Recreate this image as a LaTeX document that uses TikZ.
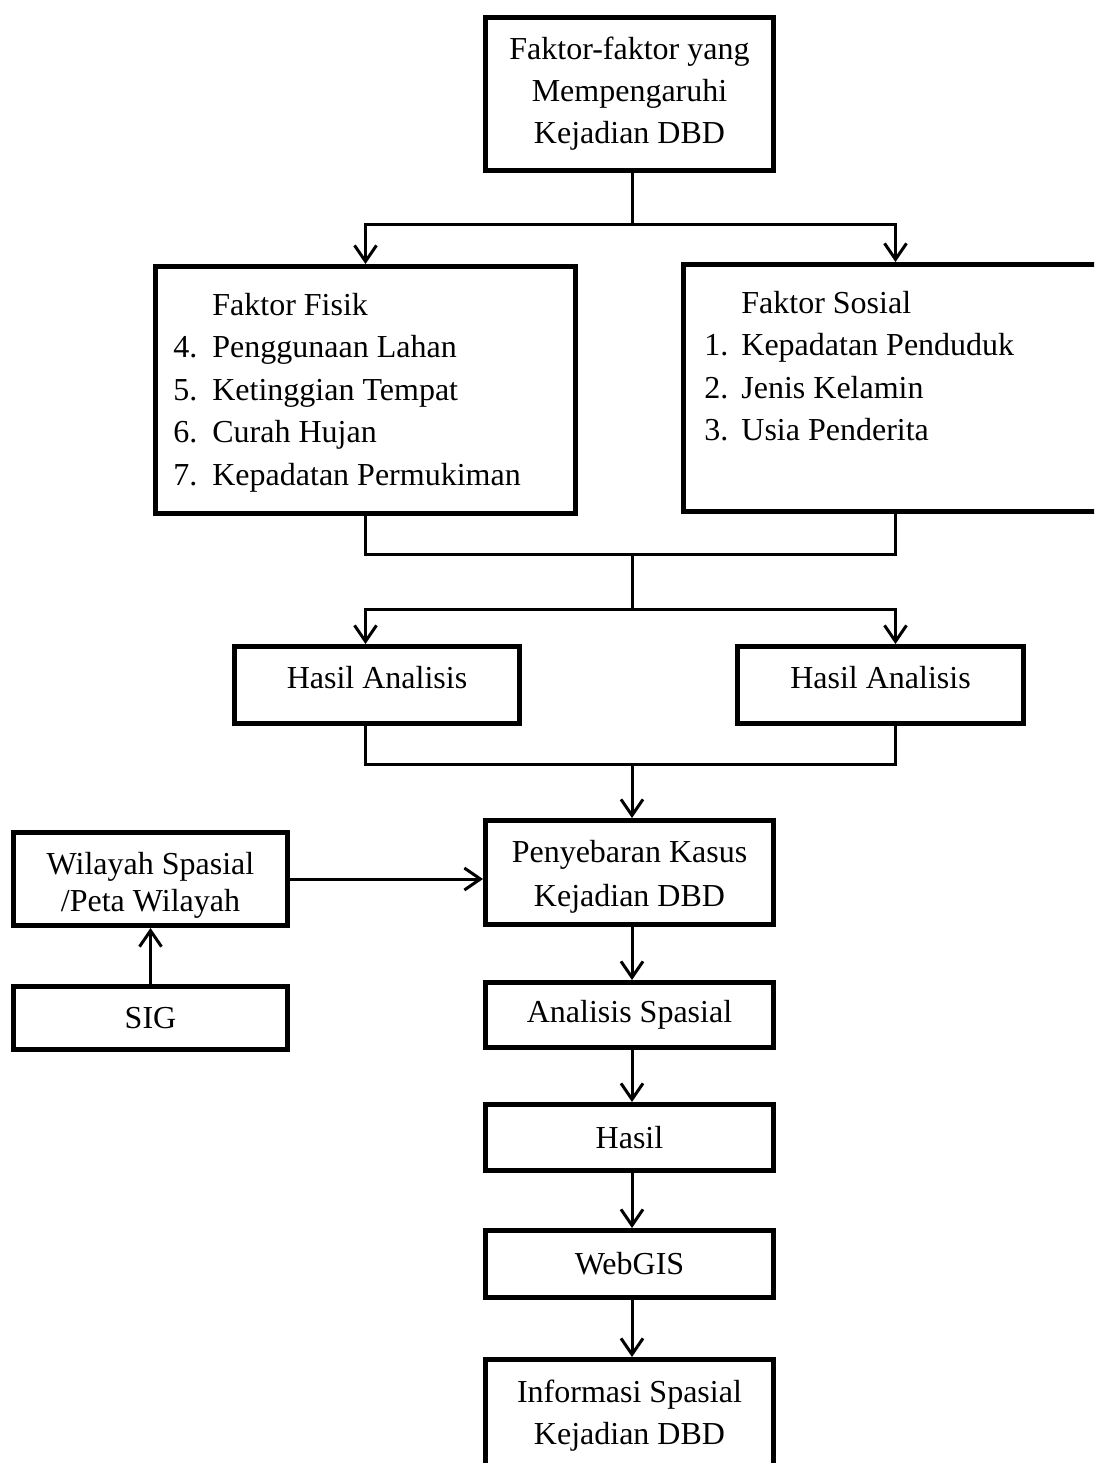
\documentclass[tikz,border=0pt]{standalone}
\usepackage{fontspec}
\setmainfont{Liberation Serif}
\usetikzlibrary{arrows.meta}
\begin{document}
\begin{tikzpicture}[x=0.5pt,y=-0.5pt,
  box/.style={draw, line width=2.5pt, inner sep=0pt, align=center, font=\fontsize{16}{21}\selectfont},
  conn/.style={line width=1.5pt},
  arr/.style={conn, -{Straight Barb[length=8pt,width=11pt]}},
  txt/.style={inner sep=0pt, anchor=base west, font=\fontsize{16}{21.25}\selectfont}]
\useasboundingbox (0,0) rectangle (1094,1463);
\clip (0,0) rectangle (1094,1463);

% boxes
\node[box, minimum width=144pt, minimum height=76.5pt] (top) at (629.5,94) {Faktor-faktor yang\\Mempengaruhi\\Kejadian DBD};
\node[box, minimum width=210pt, minimum height=123.5pt] (fisik) at (365.5,390) {};
\node[box, minimum width=212pt, minimum height=123.5pt] (sosial) at (895.5,388) {};
\node[txt] (fisiktxt) at (173,315) {\begin{tabular}[t]{@{}p{19.5pt}@{}l@{}} & Faktor Fisik\\ 4. & Penggunaan Lahan\\ 5. & Ketinggian Tempat\\ 6. & Curah Hujan\\ 7. & Kepadatan Permukiman\end{tabular}};
\node[txt] (sosialtxt) at (704,313) {\begin{tabular}[t]{@{}p{18.5pt}@{}l@{}} & Faktor Sosial\\ 1. & Kepadatan Penduduk\\ 2. & Jenis Kelamin\\ 3. & Usia Penderita\end{tabular}};
\node[box, minimum width=142.5pt, minimum height=38.5pt, text depth=8pt] (hasilL) at (377,685) {Hasil Analisis};
\node[box, minimum width=143pt, minimum height=38.5pt, text depth=8pt] (hasilR) at (880.5,685) {Hasil Analisis};
\node[box, minimum width=144pt, minimum height=52pt, font=\fontsize{16}{22}\selectfont, text height=5pt, text depth=14.9pt] (peny) at (629.5,872.5) {\begin{tabular}[t]{@{}c@{}}Penyebaran Kasus\\Kejadian DBD\end{tabular}};
\node[box, minimum width=137pt, minimum height=46.5pt, font=\fontsize{16}{18.5}\selectfont, text height=10pt, text depth=14.4pt] (wil) at (150.5,879) {\begin{tabular}[t]{@{}c@{}}Wilayah Spasial\\/Peta Wilayah\end{tabular}};
\node[box, minimum width=137pt, minimum height=31.5pt] (sig) at (150.5,1018) {SIG};
\node[box, minimum width=144pt, minimum height=32.5pt] (ana) at (629.5,1015) {Analisis Spasial};
\node[box, minimum width=144pt, minimum height=33pt] (hasil) at (629.5,1137.5) {Hasil};
\node[box, minimum width=144pt, minimum height=33.5pt] (web) at (629.5,1264) {WebGIS};
\node[box, minimum width=144pt, minimum height=56pt] (info) at (629.5,1415.5) {Informasi Spasial\\Kejadian DBD};

% connectors
\coordinate (s1) at (632,224);
\coordinate (j1) at (632,554);
\coordinate (s2) at (632,609);
\coordinate (j2) at (632,764);
\draw[conn] (top.south -| s1) -- (s1);
\draw[arr] (s1) -| (fisik.north);
\draw[arr] (s1) -| (sosial.north);
\draw[conn] (fisik.south) |- (j1) -| (sosial.south);
\draw[conn] (j1) -- (s2);
\draw[arr] (s2) -| (hasilL.north -| fisik.south);
\draw[arr] (s2) -| (hasilR.north -| sosial.south);
\draw[conn] (hasilL.south -| fisik.south) |- (j2) -| (hasilR.south -| sosial.south);
\draw[arr] (j2) -- (peny.north -| j2);
\draw[arr] (wil.east) -- (wil.east -| peny.west);
\draw[arr] (sig.north) -- (wil.south);
\draw[arr] (peny.south -| j2) -- (ana.north -| j2);
\draw[arr] (ana.south -| j2) -- (hasil.north -| j2);
\draw[arr] (hasil.south -| j2) -- (web.north -| j2);
\draw[arr] (web.south -| j2) -- (info.north -| j2);
\end{tikzpicture}
\end{document}
